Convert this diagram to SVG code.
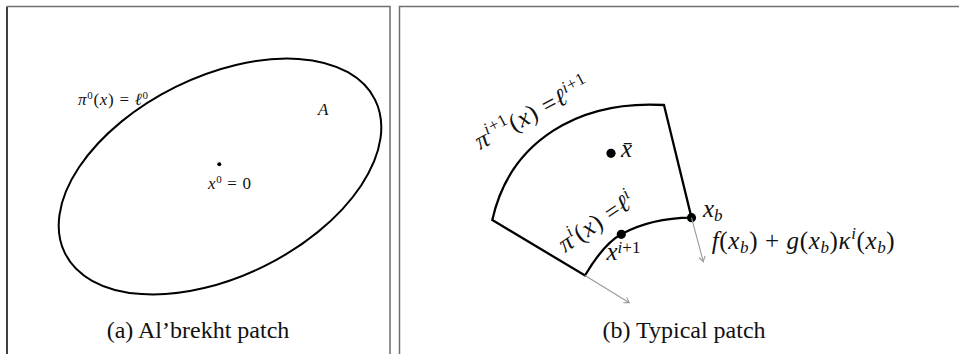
<svg xmlns="http://www.w3.org/2000/svg" width="959" height="354" viewBox="0 0 959 354" font-family="'Liberation Serif', 'DejaVu Serif', serif">
<style>
  .frame{stroke:#6f6f6f;stroke-width:1.5;fill:none}
  .curve{stroke:#000;stroke-width:2.3;fill:none;stroke-linejoin:miter}
  .vec{stroke:#9a9a9a;stroke-width:1.1;fill:none}
  .dot{fill:#000}
  text{font-family:'Liberation Serif','DejaVu Serif',serif;fill:#111}
  .i{font-style:italic}
  .cap{font-size:24px}
  .sm{font-size:17px}
  .m{font-size:25px}
</style>
<defs>
  <marker id="ah" markerWidth="10" markerHeight="10" refX="7" refY="5" orient="auto" markerUnits="userSpaceOnUse">
    <path d="M2,1.8 Q5,4 7,5 Q5,6 2,8.2" fill="none" stroke="#9a9a9a" stroke-width="1.1"/>
  </marker>
</defs>

<g id="frames">
  <line x1="7" y1="6.5" x2="7" y2="354" stroke="#000" stroke-width="1.5"/>
  <path class="frame" d="M7,6.5 H390 V354"/>
  <path class="frame" d="M399.5,354 V6.5 H959"/>
</g>

<g id="panel-a">
  <g id="set-A">
    <ellipse cx="220" cy="176.5" rx="173" ry="100" transform="rotate(-26.3 220 176.5)" fill="none" stroke="#000" stroke-width="2"/>
    <text x="78" y="104.5" class="sm" textLength="70" lengthAdjust="spacing"><tspan class="i">π</tspan><tspan dy="-6" font-size="11">0</tspan><tspan dy="6">(</tspan><tspan class="i">x</tspan>) = <tspan class="i">ℓ</tspan><tspan dy="-6" font-size="11">0</tspan></text>
    <text x="318" y="115" class="i" font-size="17">A</text>
  </g>
  <g id="origin">
    <circle class="dot" cx="219.3" cy="164.3" r="2"/>
    <text x="208" y="188.5" class="sm" textLength="43" lengthAdjust="spacing"><tspan class="i">x</tspan><tspan dy="-6" font-size="11">0</tspan><tspan dy="6"> = 0</tspan></text>
  </g>
  <text id="cap-a" x="198" y="338" class="cap" text-anchor="middle">(a) Al’brekht patch</text>
</g>

<g id="panel-b">
  <g id="patch">
    <path class="curve" d="M492.3,220 C 510,140 580,100 664,105 L691.5,217.7 C 665,218 640,224 621.3,234.3 C 605,243 593,262 585,275.5 Z"/>
    <text class="m" transform="translate(480,150) rotate(-28)" textLength="126" lengthAdjust="spacing"><tspan class="i">π</tspan><tspan dy="-10" font-size="17"><tspan class="i">i</tspan>+1</tspan><tspan dy="10">(</tspan><tspan class="i">x</tspan>) =<tspan class="i">ℓ</tspan><tspan dy="-10" font-size="17"><tspan class="i">i</tspan>+1</tspan></text>
    <text class="m" transform="translate(565,253) rotate(-34)" textLength="86" lengthAdjust="spacing"><tspan class="i">π</tspan><tspan dy="-10" font-size="17" class="i">i</tspan><tspan dy="10">(</tspan><tspan class="i">x</tspan>) =<tspan class="i">ℓ</tspan><tspan dy="-10" font-size="17" class="i">i</tspan></text>
  </g>
  <g id="xbar">
    <circle class="dot" cx="611" cy="153.3" r="4.6"/>
    <text x="621" y="157" class="m i">x̄</text>
  </g>
  <g id="xb">
    <circle class="dot" cx="691.5" cy="217.7" r="4.6"/>
    <text x="703" y="217" class="m"><tspan class="i">x</tspan><tspan dy="4" font-size="17" class="i">b</tspan></text>
  </g>
  <g id="xi1">
    <circle class="dot" cx="621.3" cy="234.3" r="4.6"/>
    <text x="606.5" y="260" class="m"><tspan class="i">x</tspan><tspan dy="-7" font-size="17"><tspan class="i">i</tspan>+1</tspan></text>
  </g>
  <text id="vf" x="711.7" y="249" class="m" textLength="183" lengthAdjust="spacing"><tspan class="i">f</tspan>(<tspan class="i">x</tspan><tspan dy="4" font-size="17" class="i">b</tspan><tspan dy="-4">) + </tspan><tspan class="i">g</tspan>(<tspan class="i">x</tspan><tspan dy="4" font-size="17" class="i">b</tspan><tspan dy="-4">)</tspan><tspan class="i">κ</tspan><tspan dy="-10" font-size="17" class="i">i</tspan><tspan dy="10">(</tspan><tspan class="i">x</tspan><tspan dy="4" font-size="17" class="i">b</tspan><tspan dy="-4">)</tspan></text>
  <text id="cap-b" x="684" y="338" class="cap" text-anchor="middle">(b) Typical patch</text>
</g>

<g id="connectors">
  <path class="vec" d="M691.5,217.7 L703.3,261.7" marker-end="url(#ah)"/>
  <path class="vec" d="M585,275.5 L629.3,302.7" marker-end="url(#ah)"/>
</g>
</svg>
